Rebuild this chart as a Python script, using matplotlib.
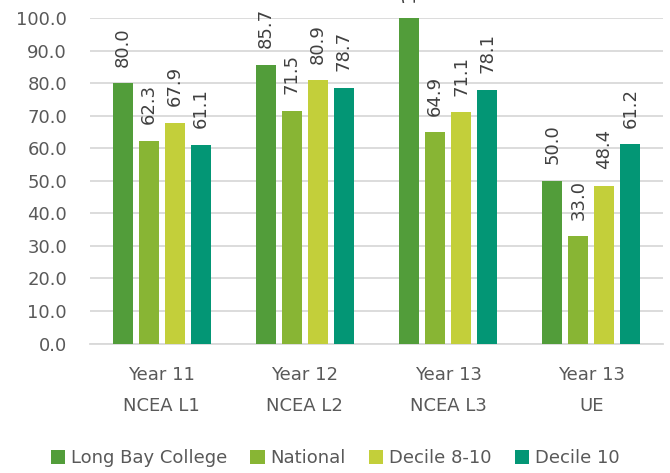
import numpy as np
import matplotlib
matplotlib.use('Agg')
import matplotlib.pyplot as plt

# NCEA achievement rates (%)
categories = ['Year 11\nNCEA L1', 'Year 12\nNCEA L2', 'Year 13\nNCEA L3', 'Year 13\nUE']
series_names = ['Long Bay College', 'National', 'Decile 8-10', 'Decile 10']
long_bay = [80.0, 85.7, 100.0, 50.0]
national = [62.3, 71.5, 64.9, 33.0]
decile_8_10 = [67.9, 80.9, 71.1, 48.4]
decile_10 = [61.1, 78.7, 78.1, 61.2]
y_ticks = [0, 10, 20, 30, 40, 50, 60, 70, 80, 90, 100]

colors = ['#529d3a', '#88b534', '#c3cf3a', '#039675']
text_grey = '#595959'

plt.rcParams['font.family'] = ['DejaVu Sans']
plt.rcParams['font.size'] = 13

fig = plt.figure(figsize=(6.7, 4.73), dpi=100)
ax = fig.add_axes([90 / 670, 1 - 343.5 / 473, 573 / 670, (343.5 - 18.3) / 473])

x = np.arange(len(categories))
pitch = 0.1815
width = 0.1396
all_series = [long_bay, national, decile_8_10, decile_10]
for i, (name, vals) in enumerate(zip(series_names, all_series)):
    bars = ax.bar(x + (i - 1.5) * pitch, vals, width, color=colors[i], label=name, zorder=3)
    # the 100.0 label runs off the top, same as in the source chart
    ax.bar_label(bars, fmt='%.1f', rotation=90, padding=12, color='#404040', fontsize=13)

ax.set_xlim(-0.5, len(categories) - 0.5)
ax.set_ylim(0, 100)
ax.set_yticks(y_ticks)
ax.set_yticklabels(['%.1f' % v for v in y_ticks])
ax.set_xticks(x)
ax.set_xticklabels(categories, linespacing=1.9)
ax.tick_params(axis='y', length=0, pad=16.5, colors=text_grey, labelsize=13)
ax.tick_params(axis='x', length=0, pad=16.5, colors=text_grey, labelsize=13)

ax.yaxis.grid(True, color='#d9d9d9', linewidth=1.3, zorder=0)
ax.set_axisbelow(True)
for side in ['left', 'right', 'top']:
    ax.spines[side].set_visible(False)
ax.spines['bottom'].set_color('#d9d9d9')
ax.spines['bottom'].set_linewidth(1.3)

leg = fig.legend(loc='center', bbox_to_anchor=(0.5, 1 - 458 / 473), ncol=4, frameon=False,
                 handlelength=0.8, handleheight=0.8, handletextpad=0.3, columnspacing=1.3,
                 fontsize=13)
for t in leg.get_texts():
    t.set_color(text_grey)

fig.savefig('out.png', dpi=100)
